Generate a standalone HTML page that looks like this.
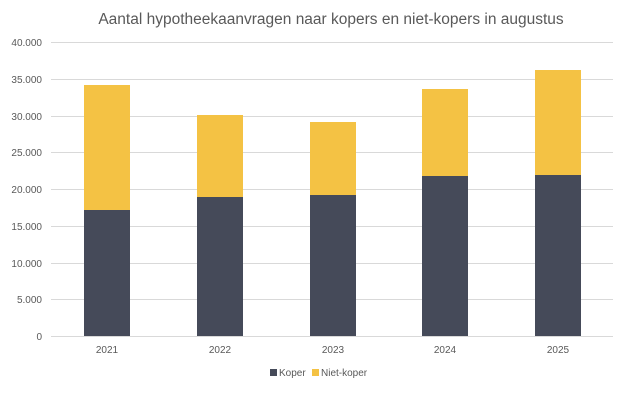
<!DOCTYPE html>
<html><head><style>body{margin:0;background:#fff}svg{display:block}text{font-family:"Liberation Sans",sans-serif;fill:#595959}</style></head><body>
<svg width="626" height="404" viewBox="0 0 626 404">
<text x="331" y="24" text-anchor="middle" font-size="15.5">Aantal hypotheekaanvragen naar kopers en niet-kopers in augustus</text>
<g stroke="#d9d9d9" stroke-width="1">
<line x1="51" x2="613" y1="42.5" y2="42.5"/><line x1="51" x2="613" y1="79.5" y2="79.5"/><line x1="51" x2="613" y1="116.5" y2="116.5"/><line x1="51" x2="613" y1="152.5" y2="152.5"/><line x1="51" x2="613" y1="189.5" y2="189.5"/><line x1="51" x2="613" y1="226.5" y2="226.5"/><line x1="51" x2="613" y1="263.5" y2="263.5"/><line x1="51" x2="613" y1="299.5" y2="299.5"/><line x1="51" x2="613" y1="336.5" y2="336.5"/>
</g>
<g font-size="10" text-anchor="end">
<text x="42" y="46">40.000</text><text x="42" y="83">35.000</text><text x="42" y="120">30.000</text><text x="42" y="156">25.000</text><text x="42" y="193">20.000</text><text x="42" y="230">15.000</text><text x="42" y="267">10.000</text><text x="42" y="303">5.000</text><text x="42" y="340">0</text>
</g>
<g fill="#f4c244">
<rect x="84" y="85" width="46" height="126"/><rect x="197" y="115" width="46" height="83"/><rect x="310" y="122" width="46" height="74"/><rect x="422" y="89" width="46" height="88"/><rect x="535" y="70" width="46" height="106"/>
</g>
<g fill="#454a59">
<rect x="84" y="210" width="46" height="126"/><rect x="197" y="197" width="46" height="139"/><rect x="310" y="195" width="46" height="141"/><rect x="422" y="176" width="46" height="160"/><rect x="535" y="175" width="46" height="161"/>
</g>
<g font-size="10" text-anchor="middle">
<text x="107" y="353">2021</text><text x="220" y="353">2022</text><text x="333" y="353">2023</text><text x="445" y="353">2024</text><text x="558" y="353">2025</text>
</g>
<rect x="270" y="369" width="7" height="7" fill="#454a59"/><text x="279" y="376" font-size="10">Koper</text>
<rect x="312" y="369" width="7" height="7" fill="#f4c244"/><text x="321" y="376" font-size="10">Niet-koper</text>
</svg>
</body></html>
